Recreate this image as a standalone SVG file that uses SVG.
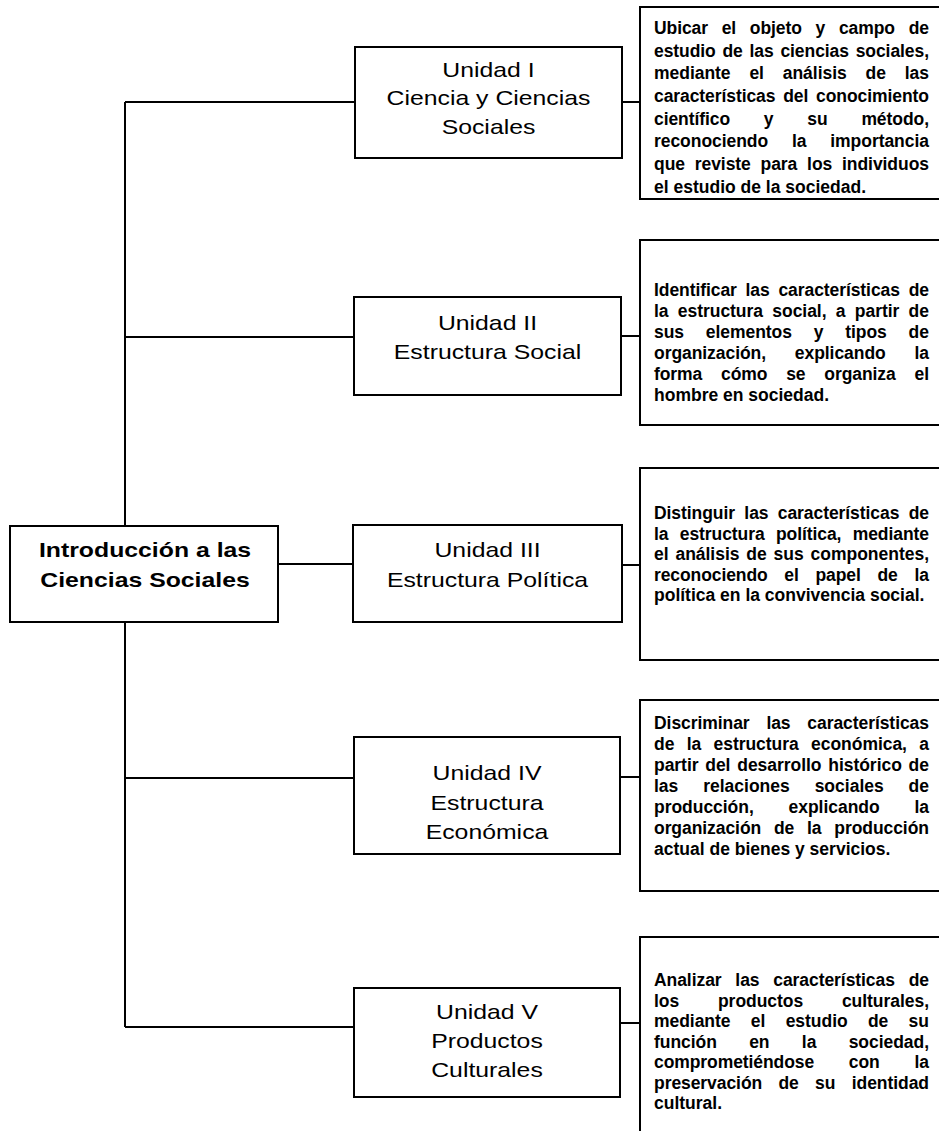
<svg xmlns="http://www.w3.org/2000/svg" width="939" height="1136" viewBox="0 0 939 1136">
<style>
.box{fill:#fff;stroke:#000;stroke-width:2}
.ln{fill:none;stroke:#000;stroke-width:2}
.u{font-family:"Liberation Sans",Arial,sans-serif;font-size:20px;fill:#000;text-anchor:middle}
.m{font-family:"Liberation Sans",Arial,sans-serif;font-size:20.5px;font-weight:bold;fill:#000;text-anchor:middle}
.d{font-family:"Liberation Sans",Arial,sans-serif;font-size:17.5px;font-weight:bold;fill:#000}
</style>
<rect width="939" height="1136" fill="#fff"/>
<g id="connectors">
<path class="ln" d="M125,102 V526 M125,622 V1027 M125,102 H355 M125,337 H354 M278,564 H353 M125,778 H354 M125,1027 H354"/>
<path class="ln" d="M622,102 H640 M621,336 H640 M622,565 H640 M620,777 H640 M620,1023 H640"/>
</g>
<g id="main">
<rect class="box" x="10" y="526" width="268" height="96"/>
<g transform="translate(145 0) scale(1.21 1)">
<text class="m" x="0" y="557">Introducción a las</text>
<text class="m" x="0" y="587">Ciencias Sociales</text>
</g>
</g>
<g id="unit1">
<rect class="box" x="355" y="47" width="267" height="111"/>
<g transform="translate(488.5 0) scale(1.24 1)">
<text class="u" x="0" y="77">Unidad I</text>
<text class="u" x="0" y="105">Ciencia y Ciencias</text>
<text class="u" x="0" y="134">Sociales</text>
</g>
</g>
<g id="unit2">
<rect class="box" x="354" y="297" width="267" height="98"/>
<g transform="translate(487.5 0) scale(1.24 1)">
<text class="u" x="0" y="330">Unidad II</text>
<text class="u" x="0" y="359">Estructura Social</text>
</g>
</g>
<g id="unit3">
<rect class="box" x="353" y="525" width="269" height="97"/>
<g transform="translate(487.5 0) scale(1.24 1)">
<text class="u" x="0" y="557">Unidad III</text>
<text class="u" x="0" y="587">Estructura Política</text>
</g>
</g>
<g id="unit4">
<rect class="box" x="354" y="737" width="266" height="117"/>
<g transform="translate(487 0) scale(1.24 1)">
<text class="u" x="0" y="780">Unidad IV</text>
<text class="u" x="0" y="810">Estructura</text>
<text class="u" x="0" y="839">Económica</text>
</g>
</g>
<g id="unit5">
<rect class="box" x="354" y="988" width="266" height="109"/>
<g transform="translate(487 0) scale(1.24 1)">
<text class="u" x="0" y="1019">Unidad V</text>
<text class="u" x="0" y="1048">Productos</text>
<text class="u" x="0" y="1077">Culturales</text>
</g>
</g>
<g id="desc1">
<rect class="box" x="640" y="7" width="310" height="192"/>
<text class="d" x="654" y="34" word-spacing="9" textLength="275" lengthAdjust="spacing">Ubicar el objeto y campo de</text>
<text class="d" x="654" y="56.7" word-spacing="2" textLength="275" lengthAdjust="spacing">estudio de las ciencias sociales,</text>
<text class="d" x="654" y="79.4" word-spacing="14" textLength="275" lengthAdjust="spacing">mediante el análisis de las</text>
<text class="d" x="654" y="102" word-spacing="3" textLength="275" lengthAdjust="spacing">características del conocimiento</text>
<text class="d" x="654" y="124.7" word-spacing="29" textLength="275" lengthAdjust="spacing">científico y su método,</text>
<text class="d" x="654" y="147.4" word-spacing="19" textLength="275" lengthAdjust="spacing">reconociendo la importancia</text>
<text class="d" x="654" y="170" word-spacing="5" textLength="275" lengthAdjust="spacing">que reviste para los individuos</text>
<text class="d" x="654" y="192.7">el estudio de la sociedad.</text>
</g>
<g id="desc2">
<rect class="box" x="640" y="240" width="310" height="185"/>
<text class="d" x="654" y="296" word-spacing="4" textLength="275" lengthAdjust="spacing">Identificar las características de</text>
<text class="d" x="654" y="317" word-spacing="4.5" textLength="275" lengthAdjust="spacing">la estructura social, a partir de</text>
<text class="d" x="654" y="338" word-spacing="17" textLength="275" lengthAdjust="spacing">sus elementos y tipos de</text>
<text class="d" x="654" y="359" word-spacing="24" textLength="275" lengthAdjust="spacing">organización, explicando la</text>
<text class="d" x="654" y="380" word-spacing="14" textLength="275" lengthAdjust="spacing">forma cómo se organiza el</text>
<text class="d" x="654" y="401">hombre en sociedad.</text>
</g>
<g id="desc3">
<rect class="box" x="640" y="468" width="310" height="192"/>
<text class="d" x="654" y="519" word-spacing="4.5" textLength="275" lengthAdjust="spacing">Distinguir las características de</text>
<text class="d" x="654" y="539.5" word-spacing="6.5" textLength="275" lengthAdjust="spacing">la estructura política, mediante</text>
<text class="d" x="654" y="560" word-spacing="2" textLength="275" lengthAdjust="spacing">el análisis de sus componentes,</text>
<text class="d" x="654" y="580.5" word-spacing="12" textLength="275" lengthAdjust="spacing">reconociendo el papel de la</text>
<text class="d" x="654" y="601">política en la convivencia social.</text>
</g>
<g id="desc4">
<rect class="box" x="640" y="700" width="310" height="191"/>
<text class="d" x="654" y="729" word-spacing="12" textLength="275" lengthAdjust="spacing">Discriminar las características</text>
<text class="d" x="654" y="750" word-spacing="7.5" textLength="275" lengthAdjust="spacing">de la estructura económica, a</text>
<text class="d" x="654" y="771" word-spacing="2" textLength="275" lengthAdjust="spacing">partir del desarrollo histórico de</text>
<text class="d" x="654" y="792" word-spacing="20" textLength="275" lengthAdjust="spacing">las relaciones sociales de</text>
<text class="d" x="654" y="813" word-spacing="30" textLength="275" lengthAdjust="spacing">producción, explicando la</text>
<text class="d" x="654" y="834" word-spacing="8" textLength="275" lengthAdjust="spacing">organización de la producción</text>
<text class="d" x="654" y="855">actual de bienes y servicios.</text>
</g>
<g id="desc5">
<path class="ln" d="M945,937 H640 V1131"/>
<text class="d" x="654" y="986" word-spacing="9" textLength="275" lengthAdjust="spacing">Analizar las características de</text>
<text class="d" x="654" y="1006.5" word-spacing="34" textLength="275" lengthAdjust="spacing">los productos culturales,</text>
<text class="d" x="654" y="1027" word-spacing="15.5" textLength="275" lengthAdjust="spacing">mediante el estudio de su</text>
<text class="d" x="654" y="1047.5" word-spacing="27.5" textLength="275" lengthAdjust="spacing">función en la sociedad,</text>
<text class="d" x="654" y="1068" word-spacing="30" textLength="275" lengthAdjust="spacing">comprometiéndose con la</text>
<text class="d" x="654" y="1088.5" word-spacing="11.5" textLength="275" lengthAdjust="spacing">preservación de su identidad</text>
<text class="d" x="654" y="1109">cultural.</text>
</g>
</svg>
